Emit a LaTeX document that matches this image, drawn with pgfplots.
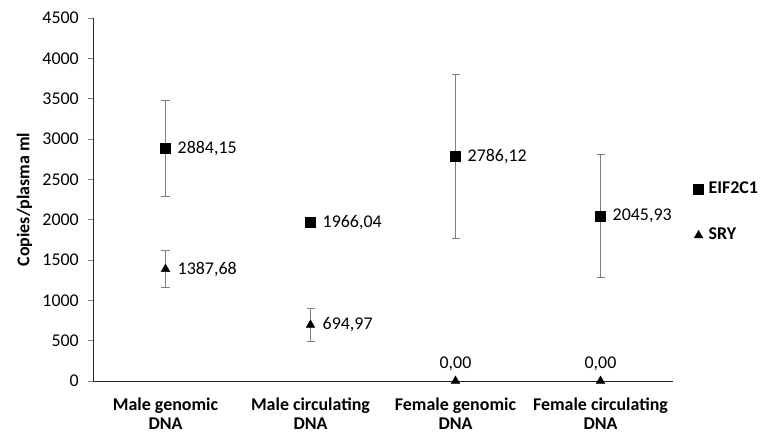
\documentclass[border=0pt]{standalone}
\usepackage{fontspec}
\setmainfont{Carlito}
\usepackage{pgfplots}
\pgfplotsset{compat=1.18}
\usepackage{pgfplotstable}

\pgfplotstableread{
x y err lab
0 2884.15 600 {2884,15}
1 1966.04 0 {1966,04}
2 2786.12 1020 {2786,12}
3 2045.93 760 {2045,93}
}\eif
\pgfplotstableread{
x y err lab
0 1387.68 230 {1387,68}
1 694.97 205 {694,97}
}\srym
\pgfplotstableread{
x y err lab
2 0 0 {0,00}
3 0 0 {0,00}
}\sryf

\begin{document}
\fontsize{18}{21}\selectfont
\begin{tikzpicture}
\begin{axis}[
  name=ax,
  scale only axis,
  width=580bp, height=363bp,
  xmin=-0.5, xmax=3.5,
  ymin=0, ymax=4500,
  ytick={0,500,...,4500},
  xtick={0,1,2,3},
  xticklabels={Male genomic\\DNA, Male circulating\\DNA, Female genomic\\DNA, Female circulating\\DNA},
  xticklabel style={align=center, font=\fontsize{18}{19}\selectfont\bfseries, yshift=-6bp},
  yticklabel style={font=\fontsize{18}{21}\selectfont, xshift=-3bp},
  /pgf/number format/assume math mode=true,
  /pgf/number format/1000 sep={},
  scaled y ticks=false,
  axis lines*=left,
  x axis line style={black!85, line width=0.9pt},
  y axis line style={black!85, line width=0.9pt},
  major x tick style={draw=none},
  major y tick style={gray, line width=0.8pt},
  tick align=outside,
  major tick length=5bp,
  ylabel={Copies/plasma ml},
  ylabel style={font=\fontsize{18}{21}\selectfont\bfseries, yshift=-2bp},
  clip=false,
  legend style={draw=none, fill=none, at={(rel axis cs:1.03,0.465)}, anchor=west,
    font=\fontsize{18}{21}\selectfont\bfseries, row sep=28bp,
    /tikz/every odd column/.style={column sep=3bp}},
  legend cell align=left,
  error bars/error bar style={gray, line width=0.8pt},
  error bars/error mark options={rotate=90, gray, mark size=4bp, line width=0.8pt},
  nodes near coords,
  point meta=explicit symbolic,
  every node near coord/.append style={font=\fontsize{18}{21}\selectfont, black},
]
\addplot[only marks, mark=square*, mark size=5bp, black,
  error bars/.cd, y dir=both, y explicit,
  /pgfplots/nodes near coords style={anchor=west, xshift=6bp}]
  table[x=x, y=y, y error=err, meta=lab]{\eif};
\addlegendentry{EIF2C1}
\addplot[only marks, mark=triangle*, mark size=5bp, black,
  error bars/.cd, y dir=both, y explicit,
  /pgfplots/nodes near coords style={anchor=west, xshift=6bp}]
  table[x=x, y=y, y error=err, meta=lab]{\srym};
\addlegendentry{SRY}
\addplot[only marks, mark=triangle*, mark size=5bp, black, forget plot,
  nodes near coords style={anchor=south, yshift=4bp}]
  table[x=x, y=y, meta=lab]{\sryf};
\coordinate (bl) at (rel axis cs:0,0);
\end{axis}
\pgfresetboundingbox
\path[use as bounding box] ([shift={(-93bp,-54bp)}]bl) rectangle ([shift={(679bp,381bp)}]bl);
\end{tikzpicture}
\end{document}
